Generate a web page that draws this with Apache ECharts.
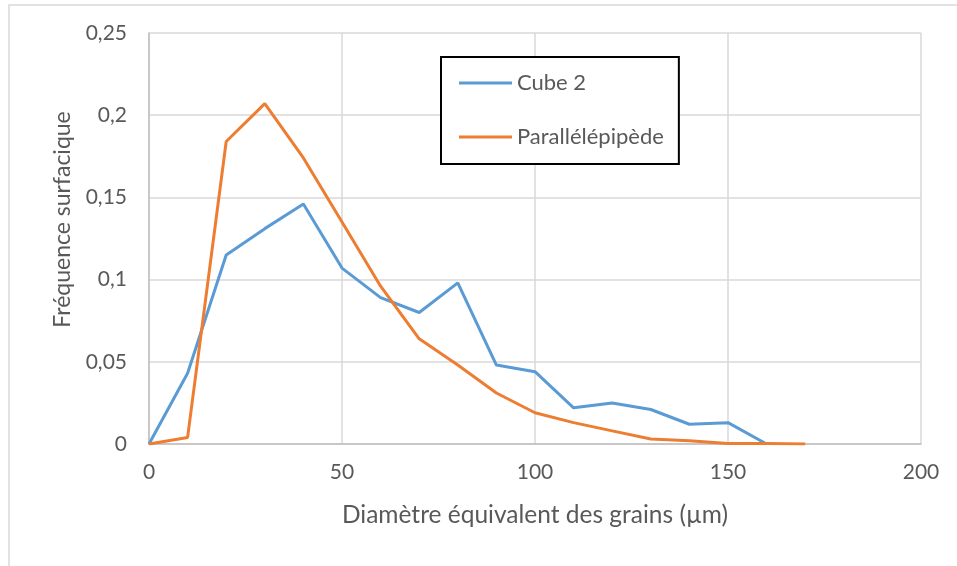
<!DOCTYPE html>
<html>
<head>
<meta charset="utf-8">
<script src="https://cdn.jsdelivr.net/npm/echarts@6/dist/echarts.min.js"></script>
<style>
html,body{margin:0;padding:0;background:#fff;}
#chart{width:957px;height:566px;}
</style>
</head>
<body>
<div id="chart"></div>
<script>
const diameters = [0, 10, 20, 30, 40, 50, 60, 70, 80, 90, 100, 110, 120, 130, 140, 150, 160, 170];
const cube2 = [0, 0.043, 0.115, 0.131, 0.146, 0.107, 0.089, 0.080, 0.098, 0.048, 0.044, 0.022, 0.025, 0.021, 0.012, 0.013, 0];
const parallelepipede = [0, 0.004, 0.184, 0.207, 0.174, 0.135, 0.096, 0.064, 0.048, 0.031, 0.019, 0.013, 0.008, 0.003, 0.002, 0.0003, 0.0003, 0];
const seriesNames = ['Cube 2', 'Parallélépipède'];
const xTitle = 'Diamètre équivalent des grains (µm)';
const yTitle = 'Fréquence surfacique';

const FONT = 'Lato';
const GREY = '#595959';

function pairs(vals) { return vals.map((v, i) => [diameters[i], v]); }

const chart = echarts.init(document.getElementById('chart'));
chart.setOption({
  animation: false,
  backgroundColor: '#fff',
  textStyle: { fontFamily: FONT },
  graphic: [{
    type: 'rect', silent: true,
    shape: { x: 9, y: 5, width: 1200, height: 1200 },
    style: { fill: 'none', stroke: '#d9d9d9', lineWidth: 1.5 }
  }],
  grid: { left: 149, top: 33, width: 772, height: 411, containLabel: false },
  legend: {
    orient: 'vertical',
    left: 441, top: 57,
    padding: [15, 15, 16, 18],
    itemGap: 32,
    itemWidth: 53, itemHeight: 14,
    icon: 'path://M0,0L53,0L53,3L0,3Z',
    symbolKeepAspect: true,
    borderColor: '#000', borderWidth: 2,
    backgroundColor: '#fff',
    textStyle: { color: GREY, fontSize: 22, fontFamily: FONT },
    data: seriesNames
  },
  xAxis: {
    type: 'value', min: 0, max: 200, interval: 50,
    name: xTitle, nameLocation: 'middle', nameGap: 59,
    nameTextStyle: { color: GREY, fontSize: 24.5, fontFamily: FONT },
    axisLine: { show: true, lineStyle: { color: '#bfbfbf', width: 1.5 } },
    axisTick: { show: false },
    axisLabel: { color: GREY, fontSize: 21, fontFamily: FONT, margin: 18 },
    splitLine: { show: true, lineStyle: { color: '#d9d9d9', width: 1.5 } }
  },
  yAxis: {
    type: 'value', min: 0, max: 0.25, interval: 0.05,
    name: yTitle, nameLocation: 'middle', nameGap: 75, nameRotate: 90,
    nameTextStyle: { color: GREY, fontSize: 23, fontFamily: FONT, padding: [0, 0, 0, 38] },
    axisLine: { show: true, lineStyle: { color: '#bfbfbf', width: 1.5 } },
    axisTick: { show: false },
    axisLabel: { color: GREY, fontSize: 21, fontFamily: FONT, margin: 22,
      formatter: v => String(Math.round(v * 100) / 100).replace('.', ',') },
    splitLine: { show: true, lineStyle: { color: '#d9d9d9', width: 1.5 } }
  },
  series: [
    { name: seriesNames[0], type: 'line', data: pairs(cube2), symbol: 'none',
      lineStyle: { color: '#5B9BD5', width: 3 }, itemStyle: { color: '#5B9BD5' } },
    { name: seriesNames[1], type: 'line', data: pairs(parallelepipede), symbol: 'none',
      lineStyle: { color: '#ED7D31', width: 3 }, itemStyle: { color: '#ED7D31' } }
  ]
});
</script>
</body>
</html>
